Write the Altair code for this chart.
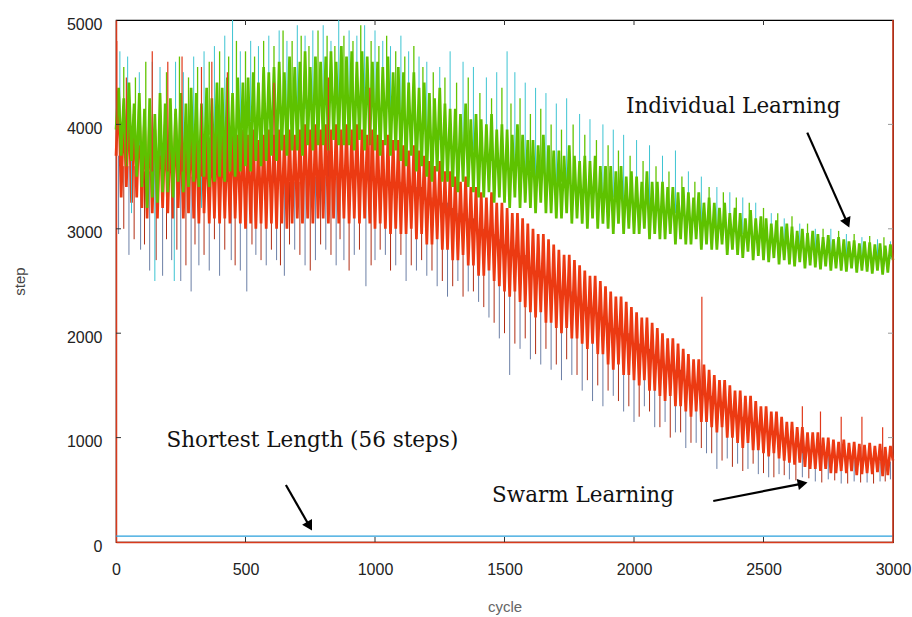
import altair as alt
import pandas as pd

# ---------------- data ----------------
cycles = list(range(0, 3001, 10))

# Individual Learning (dense core of the noisy curve)
individual = [
    3950, 4350, 3700, 4250, 3600, 4400, 3650, 4200, 3500, 4300,
    3400, 4150, 3200, 4250, 3300, 4100, 3250, 4300, 3350, 4200,
    3350, 4250, 3300, 4150, 3450, 4300, 3350, 4200, 3400, 4350,
    3450, 4300, 3400, 4200, 3500, 4350, 3400, 4250, 3450, 4400,
    3500, 4350, 3450, 4450, 3550, 4300, 3500, 4450, 3550, 4400,
    3600, 4450, 3550, 4500, 3650, 4400, 3600, 4550, 3650, 4500,
    3700, 4550, 3650, 4600, 3750, 4500, 3700, 4650, 3750, 4550,
    3750, 4600, 3700, 4700, 3800, 4550, 3750, 4650, 3800, 4600,
    3800, 4650, 3750, 4700, 3850, 4600, 3800, 4750, 3800, 4650,
    3800, 4700, 3750, 4600, 3850, 4700, 3750, 4650, 3800, 4600,
    3750, 4600, 3700, 4550, 3800, 4650, 3700, 4500, 3750, 4550,
    3650, 4500, 3600, 4400, 3700, 4500, 3550, 4350, 3600, 4400,
    3500, 4300, 3450, 4250, 3550, 4350, 3450, 4200, 3450, 4150,
    3400, 4150, 3350, 4100, 3450, 4200, 3400, 4050, 3350, 4100,
    3300, 4050, 3300, 4000, 3350, 4100, 3250, 3950, 3300, 4000,
    3250, 3950, 3200, 3900, 3300, 4000, 3200, 3900, 3250, 3850,
    3200, 3850, 3150, 3800, 3250, 3900, 3150, 3800, 3150, 3750,
    3100, 3750, 3100, 3700, 3150, 3800, 3050, 3700, 3100, 3650,
    3050, 3700, 3000, 3650, 3100, 3700, 3000, 3600, 3050, 3600,
    3000, 3600, 2950, 3550, 3050, 3600, 2950, 3500, 3000, 3550,
    2950, 3500, 2950, 3450, 3000, 3550, 2900, 3450, 2950, 3450,
    2900, 3450, 2900, 3400, 2950, 3400, 2850, 3350, 2900, 3400,
    2850, 3350, 2850, 3300, 2900, 3350, 2800, 3250, 2850, 3300,
    2800, 3250, 2800, 3200, 2850, 3250, 2750, 3150, 2800, 3200,
    2750, 3150, 2720, 3100, 2780, 3180, 2700, 3100, 2740, 3120,
    2700, 3100, 2680, 3050, 2720, 3080, 2660, 3020, 2700, 3050,
    2660, 3020, 2640, 2980, 2680, 3000, 2620, 2960, 2650, 2980,
    2630, 2950, 2610, 2920, 2640, 2940, 2600, 2900, 2620, 2920,
    2600, 2900, 2590, 2880, 2620, 2890, 2580, 2860, 2600, 2880,
    2590, 2870, 2570, 2850, 2600, 2860, 2560, 2840, 2580, 2850,
    2700,
]

# Swarm Learning (dense core of the noisy curve)
swarm = [
    3700, 4300, 3300, 4150, 3400, 4200, 3250, 4100, 3300, 4150,
    3200, 4050, 3100, 4100, 3150, 3950, 3100, 4050, 3200, 4000,
    3150, 4000, 3100, 4100, 3200, 3950, 3100, 4000, 3150, 4050,
    3100, 3950, 3050, 4000, 3150, 3900, 3050, 3950, 3100, 4000,
    3050, 3950, 3100, 3900, 3050, 4000, 3100, 3900, 3050, 3950,
    3000, 3900, 3050, 3950, 3000, 3850, 3050, 3900, 3000, 3950,
    3050, 3900, 3000, 3950, 3050, 3900, 3000, 3950, 3050, 3900,
    3100, 3950, 3050, 4000, 3100, 3950, 3050, 4000, 3100, 3950,
    3100, 4000, 3050, 3950, 3100, 4000, 3050, 3950, 3100, 4000,
    3050, 3950, 3100, 4000, 3050, 3950, 3100, 3900, 3050, 3950,
    3000, 3900, 3050, 3850, 3000, 3900, 2950, 3850, 3000, 3850,
    2950, 3800, 2950, 3750, 3000, 3800, 2900, 3750, 2950, 3700,
    2850, 3650, 2850, 3600, 2900, 3650, 2800, 3550, 2800, 3550,
    2700, 3500, 2700, 3450, 2750, 3500, 2650, 3400, 2650, 3400,
    2550, 3350, 2550, 3300, 2600, 3350, 2500, 3250, 2450, 3250,
    2400, 3200, 2350, 3150, 2400, 3150, 2300, 3100, 2250, 3050,
    2200, 3000, 2150, 2950, 2200, 2950, 2100, 2900, 2100, 2850,
    2050, 2800, 2000, 2750, 2050, 2750, 1950, 2700, 1950, 2650,
    1900, 2600, 1850, 2550, 1900, 2550, 1800, 2500, 1800, 2450,
    1700, 2400, 1650, 2350, 1700, 2350, 1600, 2300, 1600, 2250,
    1550, 2200, 1500, 2150, 1550, 2150, 1450, 2100, 1450, 2050,
    1400, 2000, 1350, 1950, 1400, 1950, 1300, 1900, 1300, 1850,
    1250, 1800, 1200, 1750, 1250, 1750, 1150, 1700, 1150, 1650,
    1100, 1600, 1050, 1550, 1100, 1550, 1000, 1500, 1000, 1450,
    950, 1450, 900, 1400, 950, 1400, 880, 1350, 880, 1300,
    850, 1300, 820, 1250, 850, 1250, 800, 1200, 780, 1150,
    760, 1150, 740, 1100, 760, 1100, 720, 1050, 700, 1050,
    700, 1050, 680, 1000, 700, 1000, 660, 980, 660, 960,
    680, 980, 660, 950, 680, 960, 640, 940, 650, 930,
    660, 950, 650, 920, 670, 940, 630, 910, 640, 920,
    780,
]

# long outlier spikes of the Individual curve (cycle, base, tip)
ind_spike_cycle = [15, 45, 90, 140, 170, 230, 260, 300, 340, 380,
                   420, 450, 480, 520, 550, 590, 630, 660, 700, 730,
                   760, 800, 830, 860, 900, 930, 960, 1000, 1030, 1060,
                   1100, 1130, 1170, 1200, 1250, 1290, 1340, 1380, 1430, 1470,
                   1510, 1540, 1580, 1620, 1660, 1700, 1740, 1790, 1830, 1880,
                   1920, 1960, 2010, 2060, 2110, 2160, 2210, 2260, 2320, 2370,
                   2420, 2470, 2530, 2580, 2640, 2700, 2760, 2820, 2880, 2940,
                   2990, 60, 150, 225, 330]
ind_spike_tip = [4700, 4650, 4500, 4600, 4550, 4600, 4500, 4650, 4700, 4750,
                 4850, 5000, 4700, 4800, 4750, 4850, 4900, 4800, 4950, 4850,
                 4900, 4950, 4800, 5000, 4900, 4850, 4950, 4900, 4800, 4750,
                 4850, 4700, 4650, 4600, 4550, 4700, 4600, 4550, 4450, 4500,
                 4700, 4500, 4400, 4350, 4300, 4200, 4250, 4100, 4050, 4000,
                 3950, 3900, 3850, 3800, 3700, 3750, 3550, 3500, 3400, 3350,
                 3300, 3250, 3150, 3100, 3050, 3000, 3000, 2950, 2920, 2900,
                 2880, 3150, 2500, 2500, 3200]
ind_spike_base = [3950, 3950, 3800, 3700, 3700, 3800, 3800, 3850, 3850, 3900,
                  3950, 3950, 3950, 4000, 4050, 4050, 4100, 4100, 4150, 4150,
                  4200, 4200, 4200, 4200, 4200, 4200, 4200, 4150, 4150, 4150,
                  4050, 4050, 4000, 3900, 3850, 3800, 3750, 3750, 3700, 3650,
                  3600, 3600, 3550, 3500, 3500, 3450, 3400, 3400, 3350, 3300,
                  3300, 3250, 3250, 3200, 3150, 3150, 3100, 3050, 3000, 3000,
                  2950, 2900, 2900, 2850, 2800, 2800, 2780, 2750, 2740, 2720,
                  2710, 3900, 3700, 3700, 3800]

# shorter spikes of the Individual curve (cycle, base, tip)
ind_short_cycle = [30, 75, 115, 195, 245, 280, 315, 360, 400, 435,
                   465, 500, 535, 570, 610, 645, 680, 715, 745, 780,
                   815, 845, 880, 915, 945, 985, 1015, 1045, 1080, 1115,
                   1150, 1185, 1225, 1270, 1315, 1360, 1405, 1450, 1490, 1525,
                   1560, 1600, 1640, 1680, 1720, 1765, 1810, 1855, 1900, 1940,
                   1985, 2035, 2085, 2135, 2185, 2235, 2290, 2345, 2395, 2445,
                   2500, 2555, 2610, 2670, 2730, 2790, 2850, 2910, 2965]
ind_short_tip = [4550, 4450, 4600, 4500, 4650, 4450, 4550, 4600, 4700, 4650,
                 4800, 4700, 4650, 4800, 4750, 4900, 4800, 4850, 4750, 4900,
                 4850, 4750, 4850, 4800, 4950, 4800, 4750, 4850, 4700, 4650,
                 4750, 4550, 4500, 4450, 4400, 4450, 4300, 4250, 4350, 4200,
                 4250, 4100, 4150, 4000, 3950, 4000, 3900, 3850, 3800, 3750,
                 3700, 3650, 3600, 3550, 3500, 3450, 3400, 3350, 3300, 3250,
                 3200, 3150, 3120, 3050, 3000, 2980, 2950, 2930, 2920]
ind_short_base = [3950, 3850, 3750, 3800, 3800, 3850, 3850, 3900, 3950, 3950,
                  3950, 4000, 4050, 4050, 4100, 4100, 4150, 4150, 4200, 4200,
                  4200, 4200, 4200, 4200, 4200, 4200, 4150, 4150, 4150, 4050,
                  4050, 4000, 3900, 3850, 3800, 3750, 3700, 3650, 3650, 3600,
                  3600, 3550, 3500, 3450, 3450, 3400, 3400, 3350, 3300, 3300,
                  3250, 3250, 3200, 3150, 3150, 3100, 3050, 3000, 3000, 2950,
                  2900, 2900, 2850, 2800, 2800, 2780, 2750, 2740, 2720]

# long downward outliers of the Swarm curve (cycle, base, tip)
sw_spike_cycle = [10, 50, 95, 130, 180, 215, 250, 290, 320, 360,
                  400, 445, 480, 505, 540, 580, 620, 650, 690, 730,
                  770, 810, 850, 880, 920, 965, 1000, 1040, 1080, 1120,
                  1160, 1200, 1240, 1280, 1320, 1360, 1400, 1440, 1480, 1520,
                  1560, 1600, 1640, 1680, 1720, 1760, 1800, 1840, 1880, 1920,
                  1960, 2000, 2040, 2080, 2120, 2160, 2200, 2240, 2280, 2320,
                  2360, 2400, 2440, 2480, 2520, 2560, 2600, 2650, 2700, 2750,
                  2800, 2850, 2900, 2950, 2990]
sw_spike_tip = [2950, 2750, 2800, 2600, 2550, 2700, 2500, 2400, 2650, 2600,
                2550, 2700, 2600, 2400, 2750, 2650, 2700, 2550, 2800, 2650,
                2700, 2800, 2650, 2700, 2750, 2450, 2700, 2750, 2650, 2500,
                2600, 2550, 2450, 2350, 2500, 2400, 2300, 2150, 1950, 1600,
                1850, 1750, 1700, 1650, 1550, 1600, 1450, 1350, 1300, 1400,
                1250, 1150, 1300, 1100, 1150, 1050, 900, 950, 850, 700,
                800, 750, 700, 650, 620, 650, 600, 620, 580, 600,
                560, 580, 570, 580, 600]
sw_spike_base = [3700, 3600, 3600, 3550, 3550, 3550, 3550, 3500, 3500, 3500,
                 3500, 3500, 3500, 3450, 3450, 3450, 3450, 3450, 3450, 3500,
                 3500, 3500, 3500, 3500, 3500, 3500, 3450, 3450, 3450, 3400,
                 3400, 3300, 3250, 3250, 3150, 3100, 3000, 2950, 2900, 2800,
                 2750, 2600, 2550, 2500, 2400, 2400, 2250, 2200, 2150, 2050,
                 2000, 1900, 1850, 1800, 1700, 1650, 1500, 1450, 1400, 1300,
                 1250, 1200, 1150, 1100, 1050, 1000, 950, 900, 850, 830,
                 800, 790, 780, 770, 770]

# shorter downward spikes of the Swarm curve (cycle, base, tip)
sw_short_cycle = [30, 70, 110, 155, 195, 235, 270, 305, 340, 380,
                  420, 460, 525, 560, 600, 635, 670, 710, 750, 790,
                  830, 865, 900, 940, 985, 1020, 1060, 1100, 1140, 1180,
                  1220, 1260, 1300, 1340, 1380, 1420, 1460, 1500, 1540, 1580,
                  1620, 1660, 1700, 1740, 1780, 1820, 1860, 1900, 1940, 1980,
                  2020, 2060, 2100, 2140, 2180, 2220, 2260, 2300, 2340, 2380,
                  2420, 2460, 2500, 2540, 2580, 2625, 2675, 2725, 2775, 2825,
                  2875, 2925, 2970]
sw_short_tip = [3000, 2900, 2850, 2700, 2900, 2800, 2650, 2850, 2750, 2900,
                2800, 2650, 2850, 2700, 2800, 2650, 2850, 2750, 2600, 2850,
                2750, 2900, 2600, 2800, 2650, 2800, 2600, 2750, 2650, 2700,
                2600, 2500, 2450, 2350, 2400, 2250, 2100, 2000, 1900, 1950,
                1800, 1850, 1700, 1750, 1600, 1550, 1500, 1450, 1350, 1300,
                1200, 1250, 1100, 1000, 1050, 950, 900, 850, 780, 720,
                680, 750, 660, 620, 640, 590, 610, 570, 590, 560,
                570, 560, 580]
sw_short_base = [3600, 3600, 3550, 3550, 3550, 3550, 3550, 3500, 3500, 3500,
                 3500, 3500, 3450, 3450, 3450, 3450, 3450, 3450, 3500, 3500,
                 3500, 3500, 3500, 3500, 3500, 3450, 3450, 3450, 3400, 3400,
                 3300, 3250, 3200, 3150, 3100, 3000, 2950, 2850, 2800, 2750,
                 2600, 2550, 2450, 2400, 2350, 2250, 2200, 2100, 2050, 2000,
                 1900, 1850, 1750, 1700, 1650, 1500, 1450, 1400, 1300, 1250,
                 1200, 1150, 1050, 1000, 1000, 950, 900, 850, 830, 800,
                 790, 780, 770]

# upward outliers of the Swarm curve (cycle, base, tip)
sw_up_cycle = [3, 40, 140, 200, 255, 330, 370, 430, 610, 820, 980,
               2262, 2650, 2720, 2800, 2880, 2960]
sw_up_tip = [4800, 4450, 4700, 4600, 4650, 4550, 4600, 4500, 4400, 4450, 4350,
             2350, 1300, 1250, 1200, 1200, 1100]
sw_up_base = [3700, 3600, 3550, 3550, 3550, 3500, 3500, 3450, 3450, 3500, 3450,
              1400, 850, 800, 780, 770, 770]

shortest_length = 56

x_ticks = [0, 500, 1000, 1500, 2000, 2500, 3000]
y_ticks = [0, 1000, 2000, 3000, 4000, 5000]

# annotations (data units)
ann_text = ["Individual Learning", "Shortest Length (56 steps)", "Swarm Learning"]
ann_x = [1969, 195, 1452]
ann_y = [4109, 913, 386]

arrow_x1 = [2669, 656, 2306]
arrow_y1 = [3921, 546, 393]
arrow_x2 = [2821, 744, 2645]
arrow_y2 = [3071, 165, 557]
head_angle = [156, 150, 79]

# ---------------- chart ----------------
W, H = 777, 522
X = alt.Scale(domain=[0, 3000], nice=False, zero=False)
Y = alt.Scale(domain=[0, 5000], nice=False)


def spikes(c, b, t, color, width=1.0):
    df = pd.DataFrame({"cycle": c, "b": b, "t": t})
    return alt.Chart(df).mark_rule(color=color, strokeWidth=width).encode(
        x="cycle:Q", y="b:Q", y2="t:Q")


x_axis = alt.Axis(values=x_ticks, title="cycle", ticks=False, format="d",
                  domainColor="#d83a1c", domainWidth=1.5, labelFlush=False,
                  labelPadding=19, labelColor="#222", titleColor="#666",
                  titlePadding=22, grid=False)
y_axis = alt.Axis(values=y_ticks, title="step", ticks=False, format="d",
                  domainColor="#d83a1c", domainWidth=1.5, labelFlush=False,
                  labelPadding=14, labelColor="#222", labelOffset=4,
                  titleColor="#444", titlePadding=39, grid=False)

df_ind = pd.DataFrame({"cycle": cycles, "step": individual})
df_sw = pd.DataFrame({"cycle": cycles, "step": swarm})

axes_anchor = alt.Chart(df_sw).mark_line(opacity=0).encode(
    x=alt.X("cycle:Q", scale=X, axis=x_axis),
    y=alt.Y("step:Q", scale=Y, axis=y_axis))

sw_long = spikes(sw_spike_cycle, sw_spike_base, sw_spike_tip, "#6b7fa6")
sw_short = spikes(sw_short_cycle, sw_short_base, sw_short_tip, "#b02c12")
swarm_line = alt.Chart(df_sw).mark_line(color="#ec3a12", strokeWidth=2.7).encode(
    x="cycle:Q", y="step:Q")
ind_long = spikes(ind_spike_cycle, ind_spike_base, ind_spike_tip, "#3cc4d2")
ind_short = spikes(ind_short_cycle, ind_short_base, ind_short_tip, "#62c400", 1.3)
ind_line = alt.Chart(df_ind).mark_line(color="#5ec200", strokeWidth=2.7).encode(
    x="cycle:Q", y="step:Q")
sw_up = spikes(sw_up_cycle, sw_up_base, sw_up_tip, "#e0381a", 1.2)

short_df = pd.DataFrame({"y": [shortest_length]})
short_line = alt.Chart(short_df).mark_rule(color="#2aa0dc", strokeWidth=1.2).encode(
    y="y:Q")

right_border = alt.Chart(pd.DataFrame({"x": [3000]})).mark_rule(
    color="#d83a1c", strokeWidth=1.5).encode(x="x:Q")

# inward ticks
tick_x_df = pd.DataFrame({"x": x_ticks[1:-1]})
tick_y_df = pd.DataFrame({"y": y_ticks[1:-1]})
ticks_bottom = alt.Chart(tick_x_df).mark_rule(color="#333").encode(
    x="x:Q", y=alt.value(H), y2=alt.value(H - 5))
ticks_top = alt.Chart(tick_x_df).mark_rule(color="#333").encode(
    x="x:Q", y=alt.value(0), y2=alt.value(5))
ticks_left = alt.Chart(tick_y_df).mark_rule(color="#333").encode(
    y="y:Q", x=alt.value(0), x2=alt.value(5))
ticks_right = alt.Chart(tick_y_df).mark_rule(color="#999").encode(
    y="y:Q", x=alt.value(W), x2=alt.value(W - 5))

ann_df = pd.DataFrame({"text": ann_text, "x": ann_x, "y": ann_y})
ann = alt.Chart(ann_df).mark_text(
    align="left", baseline="alphabetic", font="DejaVu Serif", fontSize=21.5,
    color="#111").encode(x="x:Q", y="y:Q", text="text:N")

arr_df = pd.DataFrame({"x1": arrow_x1, "y1": arrow_y1, "x2": arrow_x2,
                       "y2": arrow_y2, "a": head_angle})
shafts = alt.Chart(arr_df).mark_rule(color="#000", strokeWidth=2.2).encode(
    x="x1:Q", y="y1:Q", x2="x2:Q", y2="y2:Q")
heads = alt.Chart(arr_df).mark_point(
    shape="triangle", filled=True, color="#000", size=130, opacity=1).encode(
    x="x2:Q", y="y2:Q", angle=alt.Angle("a:Q", scale=None))

chart = alt.layer(
    axes_anchor,
    sw_long, sw_short, swarm_line, ind_long, ind_short, ind_line, sw_up,
    short_line, right_border,
    ticks_bottom, ticks_top, ticks_left, ticks_right,
    ann, shafts, heads,
).properties(
    width=W, height=H,
    background="white",
    autosize=alt.AutoSizeParams(type="none"),
    padding={"left": 116, "top": 20, "right": 19, "bottom": 75},
).configure_view(
    stroke="#000", strokeWidth=1.2
).configure_axis(
    labelFont="Liberation Sans", labelFontSize=16,
    titleFont="Liberation Sans", titleFontSize=15, titleFontWeight="normal",
)

chart.save("out.html", embed_options={"renderer": "svg", "actions": False})
